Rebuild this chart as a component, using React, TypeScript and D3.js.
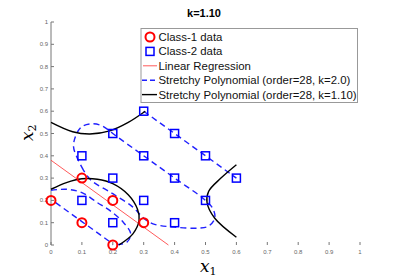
import React from 'react';
import * as d3 from 'd3';

const W = 398;
const H = 277;

const xTicks = [0, 0.1, 0.2, 0.3, 0.4, 0.5, 0.6, 0.7, 0.8, 0.9, 1];
const yTicks = [0, 0.1, 0.2, 0.3, 0.4, 0.5, 0.6, 0.7, 0.8, 0.9, 1];

const class1: [number, number][] = [
  [0, 0.2], [0.1, 0.3], [0.1, 0.1], [0.2, 0.2], [0.2, 0], [0.3, 0.1],
];
const class2: [number, number][] = [
  [0.1, 0.4], [0.1, 0.2], [0.2, 0.5], [0.2, 0.3], [0.2, 0.1],
  [0.3, 0.6], [0.3, 0.4], [0.3, 0.2], [0.4, 0.5], [0.4, 0.3], [0.4, 0.1],
  [0.5, 0.4], [0.5, 0.2], [0.6, 0.3],
];

const regression: [number, number][] = [[0, 0.38], [0.38, 0]];

// k=2.0 boundary pieces (traced)
const poly2Loop: [number, number][] = [
  [0.105, 0.336], [0.085, 0.39], [0.073, 0.44], [0.08, 0.49], [0.099, 0.53],
  [0.126, 0.543], [0.159, 0.538], [0.186, 0.516], [0.2, 0.5], [0.3, 0.4],
  [0.4, 0.3], [0.5, 0.2], [0.525, 0.16], [0.53, 0.12], [0.51, 0.085],
  [0.48, 0.076], [0.4, 0.08], [0.33, 0.095], [0.3, 0.12], [0.265, 0.17],
  [0.2, 0.23], [0.13, 0.29], [0.105, 0.336],
];
const poly2Diag: [number, number][] = [[0.3, 0.6], [0.4, 0.5], [0.5, 0.4], [0.6, 0.3]];
const poly2Inner: [number, number][] = [
  [0, 0.245], [0.05, 0.25], [0.1, 0.235], [0.15, 0.19], [0.19, 0.155],
  [0.235, 0.1], [0.258, 0.05], [0.245, 0.012], [0.2, 0.0],
];
const poly2Low: [number, number][] = [[0.015, 0.19], [0.1, 0.105], [0.19, 0.015]];

// k=1.10 boundary pieces (traced)
const polyKUpper: [number, number][] = [
  [0, 0.55], [0.07, 0.508], [0.126, 0.498], [0.19, 0.512], [0.25, 0.55], [0.305, 0.6],
];
const polyKMid: [number, number][] = [
  [0, 0.25], [0.05, 0.28], [0.1, 0.297], [0.15, 0.295], [0.2, 0.275],
  [0.25, 0.225], [0.28, 0.16], [0.285, 0.11], [0.265, 0.05], [0.22, 0.0],
];
const polyKRight: [number, number][] = [
  [0.6, 0.36], [0.55, 0.3], [0.51, 0.24], [0.505, 0.19], [0.53, 0.12], [0.6, 0.035],
];

const legendItems = [
  'Class-1 data',
  'Class-2 data',
  'Linear Regression',
  'Stretchy Polynomial (order=28, k=2.0)',
  'Stretchy Polynomial (order=28, k=1.10)',
];

export default function App() {
  const x = d3.scaleLinear().domain([0, 1]).range([51, 360]);
  const y = d3.scaleLinear().domain([0, 1]).range([245, 22]);
  const path = d3.line<[number, number]>()
    .x(d => x(d[0]))
    .y(d => y(d[1]))
    .curve(d3.curveCatmullRom.alpha(0.5));
  const straight = d3.line<[number, number]>().x(d => x(d[0])).y(d => y(d[1]));

  const lx = 141;
  const ly0 = 37;
  const lstep = 14.4;

  return (
    <svg width={W} height={H} style={{ position: 'absolute', left: 0, top: 0, background: '#fff' }}
      fontFamily="Liberation Sans, Arial, sans-serif">
      <text x={204} y={17} textAnchor="middle" fontSize={11} fontWeight="bold">k=1.10</text>

      {/* axes */}
      <line x1={x(0)} x2={x(0)} y1={y(0)} y2={y(1)} stroke="#777" strokeWidth={1} />
      {yTicks.map(t => (
        <g key={'y' + t}>
          <line x1={x(0)} x2={x(0) + 3} y1={y(t)} y2={y(t)} stroke="#777" />
          <text x={x(0) - 3} y={y(t) + 2} textAnchor="end" fontSize={6} fill="#666">{t}</text>
        </g>
      ))}
      {xTicks.map(t => (
        <g key={'x' + t}>
          <line x1={x(t)} x2={x(t)} y1={y(0)} y2={y(0) - 3} stroke="#777" />
          <text x={x(t)} y={y(0) + 9} textAnchor="middle" fontSize={6} fill="#666">{t}</text>
        </g>
      ))}
      <text x={200} y={272} fontSize={17} fontStyle="italic" fontFamily="DejaVu Serif, serif">
        x<tspan fontSize={11} dy={3} fontStyle="normal">1</tspan>
      </text>
      <text transform="translate(33,141) rotate(-90)" fontSize={17} fontStyle="italic" fontFamily="DejaVu Serif, serif">
        x<tspan fontSize={11} dy={3} fontStyle="normal">2</tspan>
      </text>

      {/* curves */}
      <path d={straight(regression) ?? ''} fill="none" stroke="#ff3030" strokeWidth={0.8} />
      {[poly2Loop, poly2Diag, poly2Inner, poly2Low].map((c, i) => (
        <path key={'b' + i} d={(c === poly2Diag || c === poly2Low ? straight(c) : path(c)) ?? ''}
          fill="none" stroke="#2020ff" strokeWidth={1.4} strokeDasharray="6 4" />
      ))}
      {[polyKUpper, polyKMid, polyKRight].map((c, i) => (
        <path key={'k' + i} d={path(c) ?? ''} fill="none" stroke="#000" strokeWidth={1.4} />
      ))}

      {/* points */}
      {class2.map((d, i) => (
        <rect key={'s' + i} x={x(d[0]) - 4} y={y(d[1]) - 4} width={8} height={8}
          fill="none" stroke="#0000ff" strokeWidth={1.5} />
      ))}
      {class1.map((d, i) => (
        <circle key={'c' + i} cx={x(d[0])} cy={y(d[1])} r={4.5}
          fill="none" stroke="#ff0000" strokeWidth={2} />
      ))}

      {/* legend */}
      <rect x={lx} y={28.5} width={216.5} height={74} fill="#fff" stroke="#999" strokeWidth={1} />
      <circle cx={150} cy={ly0} r={4.5} fill="none" stroke="#ff0000" strokeWidth={2} />
      <rect x={146} y={ly0 + lstep - 4} width={8} height={8} fill="none" stroke="#0000ff" strokeWidth={1.5} />
      <line x1={143} x2={157} y1={ly0 + 2 * lstep} y2={ly0 + 2 * lstep} stroke="#ff3030" strokeWidth={0.8} />
      <line x1={142} x2={157} y1={ly0 + 3 * lstep} y2={ly0 + 3 * lstep} stroke="#2020ff" strokeWidth={1.4} strokeDasharray="5 3" />
      <line x1={142} x2={157} y1={ly0 + 4 * lstep} y2={ly0 + 4 * lstep} stroke="#000" strokeWidth={1.4} />
      {legendItems.map((t, i) => (
        <text key={t} x={158.5} y={ly0 + i * lstep + 4} fontSize={11.4} fill="#111">{t}</text>
      ))}
    </svg>
  );
}
